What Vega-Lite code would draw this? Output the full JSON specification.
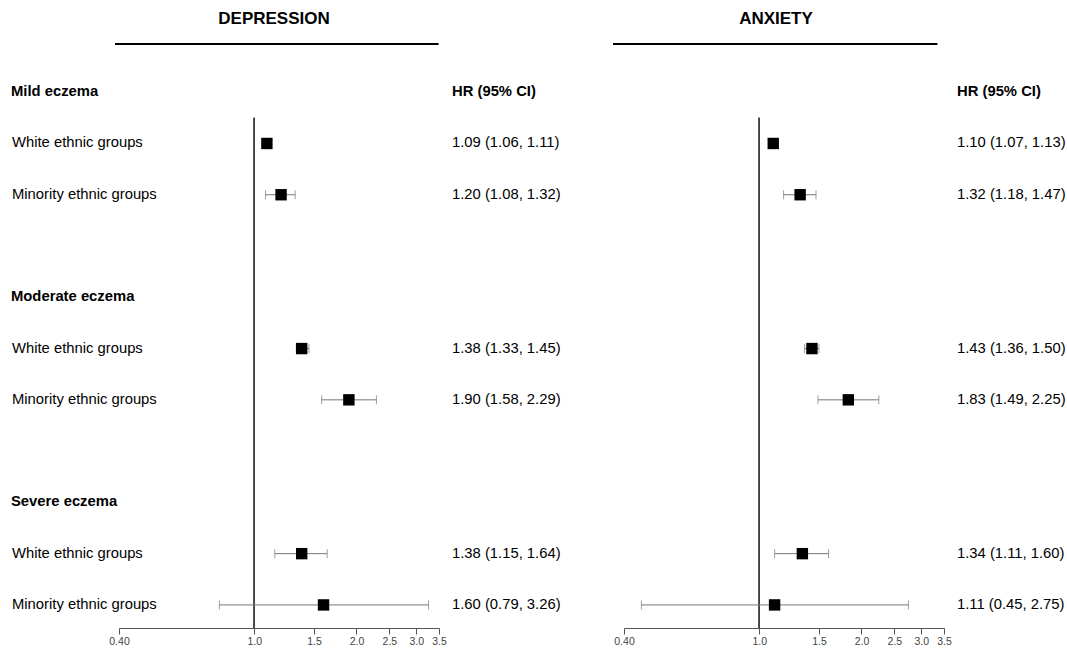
{
  "$schema": "https://vega.github.io/schema/vega-lite/v6.json",
  "background": "white",
  "padding": {"left": 0, "right": 0, "top": 10, "bottom": 0},
  "bounds": "flush",
  "spacing": 0,
  "config": {"view": {"stroke": null}, "font": "Liberation Sans", "concat": {"spacing": 0}},
  "datasets": {
    "est": [
      {"outcome": "Depression", "severity": "Mild eczema", "group": "White ethnic groups", "row": 1, "hr": 1.09, "lo": 1.06, "hi": 1.11, "hr_text": "1.09 (1.06, 1.11)"},
      {"outcome": "Depression", "severity": "Mild eczema", "group": "Minority ethnic groups", "row": 2, "hr": 1.20, "lo": 1.08, "hi": 1.32, "hr_text": "1.20 (1.08, 1.32)"},
      {"outcome": "Depression", "severity": "Moderate eczema", "group": "White ethnic groups", "row": 5, "hr": 1.38, "lo": 1.33, "hi": 1.45, "hr_text": "1.38 (1.33, 1.45)"},
      {"outcome": "Depression", "severity": "Moderate eczema", "group": "Minority ethnic groups", "row": 6, "hr": 1.90, "lo": 1.58, "hi": 2.29, "hr_text": "1.90 (1.58, 2.29)"},
      {"outcome": "Depression", "severity": "Severe eczema", "group": "White ethnic groups", "row": 9, "hr": 1.38, "lo": 1.15, "hi": 1.64, "hr_text": "1.38 (1.15, 1.64)"},
      {"outcome": "Depression", "severity": "Severe eczema", "group": "Minority ethnic groups", "row": 10, "hr": 1.60, "lo": 0.79, "hi": 3.26, "hr_text": "1.60 (0.79, 3.26)"},
      {"outcome": "Anxiety", "severity": "Mild eczema", "group": "White ethnic groups", "row": 1, "hr": 1.10, "lo": 1.07, "hi": 1.13, "hr_text": "1.10 (1.07, 1.13)"},
      {"outcome": "Anxiety", "severity": "Mild eczema", "group": "Minority ethnic groups", "row": 2, "hr": 1.32, "lo": 1.18, "hi": 1.47, "hr_text": "1.32 (1.18, 1.47)"},
      {"outcome": "Anxiety", "severity": "Moderate eczema", "group": "White ethnic groups", "row": 5, "hr": 1.43, "lo": 1.36, "hi": 1.50, "hr_text": "1.43 (1.36, 1.50)"},
      {"outcome": "Anxiety", "severity": "Moderate eczema", "group": "Minority ethnic groups", "row": 6, "hr": 1.83, "lo": 1.49, "hi": 2.25, "hr_text": "1.83 (1.49, 2.25)"},
      {"outcome": "Anxiety", "severity": "Severe eczema", "group": "White ethnic groups", "row": 9, "hr": 1.34, "lo": 1.11, "hi": 1.60, "hr_text": "1.34 (1.11, 1.60)"},
      {"outcome": "Anxiety", "severity": "Severe eczema", "group": "Minority ethnic groups", "row": 10, "hr": 1.11, "lo": 0.45, "hi": 2.75, "hr_text": "1.11 (0.45, 2.75)"}
    ],
    "labels": [
      {"row": 0, "label": "Mild eczema", "level": "header"},
      {"row": 1, "label": "White ethnic groups", "level": "group"},
      {"row": 2, "label": "Minority ethnic groups", "level": "group"},
      {"row": 4, "label": "Moderate eczema", "level": "header"},
      {"row": 5, "label": "White ethnic groups", "level": "group"},
      {"row": 6, "label": "Minority ethnic groups", "level": "group"},
      {"row": 8, "label": "Severe eczema", "level": "header"},
      {"row": 9, "label": "White ethnic groups", "level": "group"},
      {"row": 10, "label": "Minority ethnic groups", "level": "group"}
    ],
    "colhead": [
      {"row": 0, "label": "HR (95% CI)"}
    ]
  },
  "hconcat": [
    {
      "width": 119,
      "height": 584,
      "data": {"name": "labels"},
      "layer": [
        {
          "transform": [{"filter": "datum.level === 'header'"}],
          "mark": {"type": "text", "align": "left", "baseline": "middle", "dx": 11, "fontSize": 14.8, "fontWeight": "bold", "font": "Liberation Sans", "color": "black"},
          "encoding": {
            "x": {"datum": 0, "type": "quantitative", "scale": {"domain": [0, 1]}, "axis": null},
            "y": {"field": "row", "type": "quantitative", "scale": {"domain": [-0.94, 10.45], "reverse": true, "nice": false, "zero": false}, "axis": null},
            "text": {"field": "label"}
          }
        },
        {
          "transform": [{"filter": "datum.level === 'group'"}],
          "mark": {"type": "text", "align": "left", "baseline": "middle", "dx": 12, "fontSize": 14.8, "font": "Liberation Sans", "color": "black"},
          "encoding": {
            "x": {"datum": 0, "type": "quantitative", "scale": {"domain": [0, 1]}, "axis": null},
            "y": {"field": "row", "type": "quantitative", "scale": {"domain": [-0.94, 10.45], "reverse": true, "nice": false, "zero": false}, "axis": null},
            "text": {"field": "label"}
          }
        }
      ]
    },
    {
      "width": 320,
      "height": 584,
      "title": {"text": "DEPRESSION", "fontSize": 17, "fontWeight": "bold", "font": "Liberation Sans", "anchor": "middle", "frame": "group", "offset": 2, "baseline": "alphabetic", "color": "black", "dx": -5},
      "data": {"name": "est"},
      "transform": [{"filter": "datum.outcome === 'Depression'"}],
      "layer": [
        {
          "mark": {"type": "rule", "stroke": "black", "strokeWidth": 2},
          "encoding": {
            "x": {"datum": 0.39, "type": "quantitative", "scale": {"type": "log", "domain": [0.4, 3.5], "nice": false}},
            "x2": {"datum": 3.48},
            "y": {"datum": -0.94, "type": "quantitative", "scale": {"domain": [-0.94, 10.45], "reverse": true, "nice": false, "zero": false}, "axis": null}
          }
        },
        {
          "mark": {"type": "rule", "stroke": "#444", "strokeWidth": 1},
          "encoding": {
            "x": {"datum": 1, "type": "quantitative", "scale": {"type": "log", "domain": [0.4, 3.5], "nice": false}},
            "y": {"datum": 0.5, "type": "quantitative", "scale": {"domain": [-0.94, 10.45], "reverse": true, "nice": false, "zero": false}, "axis": null},
            "y2": {"datum": 10.45}
          }
        },
        {
          "mark": {"type": "rule", "stroke": "#777", "strokeWidth": 1},
          "encoding": {
            "x": {"field": "lo", "type": "quantitative", "scale": {"type": "log", "domain": [0.4, 3.5], "nice": false},
              "axis": {"values": [0.4, 1, 1.5, 2, 2.5, 3, 3.5], "labelExpr": "datum.value < 0.5 ? '0.40' : format(datum.value, '.1f')", "title": null, "grid": false, "domainColor": "#555", "tickColor": "#555", "tickSize": 6, "labelFontSize": 10.5, "labelColor": "#444", "labelPadding": 2, "labelFont": "Liberation Sans", "labelFlush": false, "labelOverlap": false}},
            "x2": {"field": "hi"},
            "y": {"field": "row", "type": "quantitative", "scale": {"domain": [-0.94, 10.45], "reverse": true, "nice": false, "zero": false}, "axis": null}
          }
        },
        {
          "mark": {"type": "tick", "orient": "vertical", "size": 9, "thickness": 1, "color": "#777"},
          "encoding": {
            "x": {"field": "lo", "type": "quantitative", "scale": {"type": "log", "domain": [0.4, 3.5], "nice": false}},
            "y": {"field": "row", "type": "quantitative", "scale": {"domain": [-0.94, 10.45], "reverse": true, "nice": false, "zero": false}, "axis": null}
          }
        },
        {
          "mark": {"type": "tick", "orient": "vertical", "size": 9, "thickness": 1, "color": "#777"},
          "encoding": {
            "x": {"field": "hi", "type": "quantitative", "scale": {"type": "log", "domain": [0.4, 3.5], "nice": false}},
            "y": {"field": "row", "type": "quantitative", "scale": {"domain": [-0.94, 10.45], "reverse": true, "nice": false, "zero": false}, "axis": null}
          }
        },
        {
          "mark": {"type": "point", "shape": "square", "filled": true, "size": 130, "color": "black", "opacity": 1},
          "encoding": {
            "x": {"field": "hr", "type": "quantitative", "scale": {"type": "log", "domain": [0.4, 3.5], "nice": false}},
            "y": {"field": "row", "type": "quantitative", "scale": {"domain": [-0.94, 10.45], "reverse": true, "nice": false, "zero": false}, "axis": null}
          }
        }
      ]
    },
    {
      "width": 185,
      "height": 584,
      "layer": [
        {
          "data": {"name": "colhead"},
          "mark": {"type": "text", "align": "left", "baseline": "middle", "dx": 13, "fontSize": 14.8, "fontWeight": "bold", "font": "Liberation Sans", "color": "black"},
          "encoding": {
            "x": {"datum": 0, "type": "quantitative", "scale": {"domain": [0, 1]}, "axis": null},
            "y": {"field": "row", "type": "quantitative", "scale": {"domain": [-0.94, 10.45], "reverse": true, "nice": false, "zero": false}, "axis": null},
            "text": {"field": "label"}
          }
        },
        {
          "data": {"name": "est"},
          "transform": [{"filter": "datum.outcome === 'Depression'"}],
          "mark": {"type": "text", "align": "left", "baseline": "middle", "dx": 13, "fontSize": 14.8, "font": "Liberation Sans", "color": "black"},
          "encoding": {
            "x": {"datum": 0, "type": "quantitative", "scale": {"domain": [0, 1]}, "axis": null},
            "y": {"field": "row", "type": "quantitative", "scale": {"domain": [-0.94, 10.45], "reverse": true, "nice": false, "zero": false}, "axis": null},
            "text": {"field": "hr_text"}
          }
        }
      ]
    },
    {
      "width": 320,
      "height": 584,
      "title": {"text": "ANXIETY", "fontSize": 17, "fontWeight": "bold", "font": "Liberation Sans", "anchor": "middle", "frame": "group", "offset": 2, "baseline": "alphabetic", "color": "black", "dx": -8},
      "data": {"name": "est"},
      "transform": [{"filter": "datum.outcome === 'Anxiety'"}],
      "layer": [
        {
          "mark": {"type": "rule", "stroke": "black", "strokeWidth": 2},
          "encoding": {
            "x": {"datum": 0.372, "type": "quantitative", "scale": {"type": "log", "domain": [0.4, 3.5], "nice": false}},
            "x2": {"datum": 3.34},
            "y": {"datum": -0.94, "type": "quantitative", "scale": {"domain": [-0.94, 10.45], "reverse": true, "nice": false, "zero": false}, "axis": null}
          }
        },
        {
          "mark": {"type": "rule", "stroke": "#444", "strokeWidth": 1},
          "encoding": {
            "x": {"datum": 1, "type": "quantitative", "scale": {"type": "log", "domain": [0.4, 3.5], "nice": false}},
            "y": {"datum": 0.5, "type": "quantitative", "scale": {"domain": [-0.94, 10.45], "reverse": true, "nice": false, "zero": false}, "axis": null},
            "y2": {"datum": 10.45}
          }
        },
        {
          "mark": {"type": "rule", "stroke": "#777", "strokeWidth": 1},
          "encoding": {
            "x": {"field": "lo", "type": "quantitative", "scale": {"type": "log", "domain": [0.4, 3.5], "nice": false},
              "axis": {"values": [0.4, 1, 1.5, 2, 2.5, 3, 3.5], "labelExpr": "datum.value < 0.5 ? '0.40' : format(datum.value, '.1f')", "title": null, "grid": false, "domainColor": "#555", "tickColor": "#555", "tickSize": 6, "labelFontSize": 10.5, "labelColor": "#444", "labelPadding": 2, "labelFont": "Liberation Sans", "labelFlush": false, "labelOverlap": false}},
            "x2": {"field": "hi"},
            "y": {"field": "row", "type": "quantitative", "scale": {"domain": [-0.94, 10.45], "reverse": true, "nice": false, "zero": false}, "axis": null}
          }
        },
        {
          "mark": {"type": "tick", "orient": "vertical", "size": 9, "thickness": 1, "color": "#777"},
          "encoding": {
            "x": {"field": "lo", "type": "quantitative", "scale": {"type": "log", "domain": [0.4, 3.5], "nice": false}},
            "y": {"field": "row", "type": "quantitative", "scale": {"domain": [-0.94, 10.45], "reverse": true, "nice": false, "zero": false}, "axis": null}
          }
        },
        {
          "mark": {"type": "tick", "orient": "vertical", "size": 9, "thickness": 1, "color": "#777"},
          "encoding": {
            "x": {"field": "hi", "type": "quantitative", "scale": {"type": "log", "domain": [0.4, 3.5], "nice": false}},
            "y": {"field": "row", "type": "quantitative", "scale": {"domain": [-0.94, 10.45], "reverse": true, "nice": false, "zero": false}, "axis": null}
          }
        },
        {
          "mark": {"type": "point", "shape": "square", "filled": true, "size": 130, "color": "black", "opacity": 1},
          "encoding": {
            "x": {"field": "hr", "type": "quantitative", "scale": {"type": "log", "domain": [0.4, 3.5], "nice": false}},
            "y": {"field": "row", "type": "quantitative", "scale": {"domain": [-0.94, 10.45], "reverse": true, "nice": false, "zero": false}, "axis": null}
          }
        }
      ]
    },
    {
      "width": 123,
      "height": 584,
      "layer": [
        {
          "data": {"name": "colhead"},
          "mark": {"type": "text", "align": "left", "baseline": "middle", "dx": 13, "fontSize": 14.8, "fontWeight": "bold", "font": "Liberation Sans", "color": "black"},
          "encoding": {
            "x": {"datum": 0, "type": "quantitative", "scale": {"domain": [0, 1]}, "axis": null},
            "y": {"field": "row", "type": "quantitative", "scale": {"domain": [-0.94, 10.45], "reverse": true, "nice": false, "zero": false}, "axis": null},
            "text": {"field": "label"}
          }
        },
        {
          "data": {"name": "est"},
          "transform": [{"filter": "datum.outcome === 'Anxiety'"}],
          "mark": {"type": "text", "align": "left", "baseline": "middle", "dx": 13, "fontSize": 14.8, "font": "Liberation Sans", "color": "black"},
          "encoding": {
            "x": {"datum": 0, "type": "quantitative", "scale": {"domain": [0, 1]}, "axis": null},
            "y": {"field": "row", "type": "quantitative", "scale": {"domain": [-0.94, 10.45], "reverse": true, "nice": false, "zero": false}, "axis": null},
            "text": {"field": "hr_text"}
          }
        }
      ]
    }
  ]
}
